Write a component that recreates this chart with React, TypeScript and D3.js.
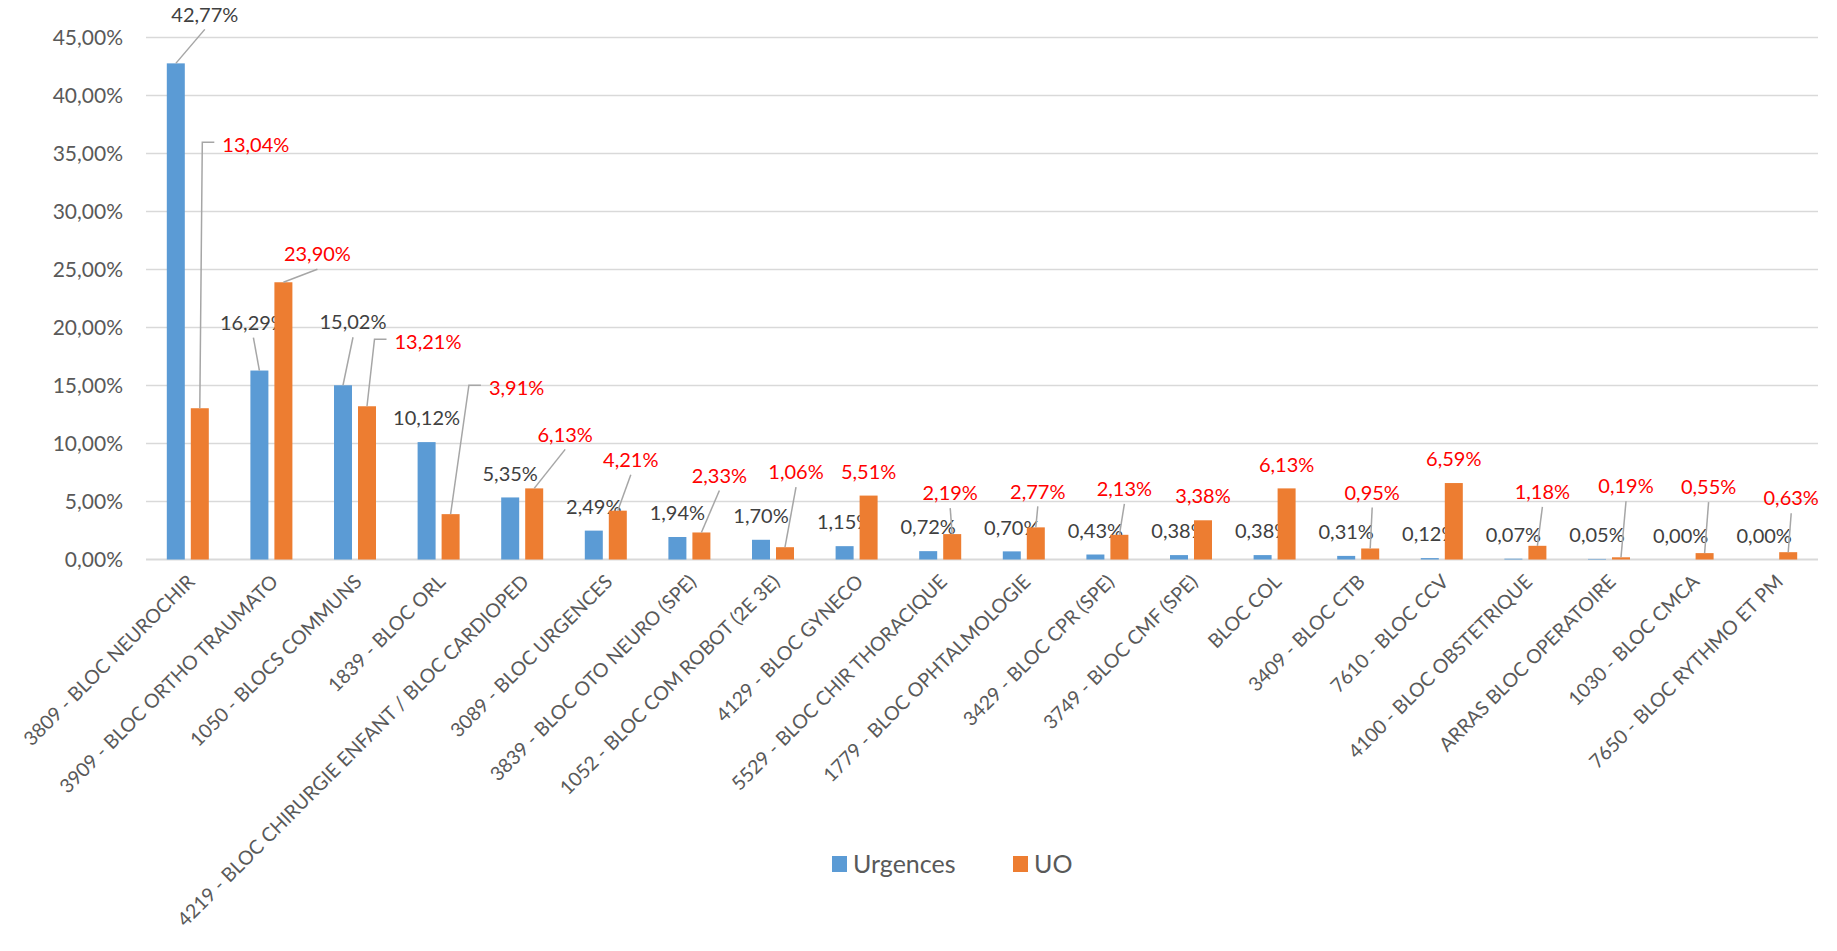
import React, { useEffect, useRef } from "react";
import * as d3 from "d3";

const categories = [
  "3809 - BLOC NEUROCHIR",
  "3909 - BLOC ORTHO TRAUMATO",
  "1050 - BLOCS COMMUNS",
  "1839 - BLOC ORL",
  "4219 - BLOC CHIRURGIE ENFANT / BLOC CARDIOPED",
  "3089 - BLOC URGENCES",
  "3839 - BLOC OTO NEURO (SPE)",
  "1052 - BLOC COM ROBOT (2E 3E)",
  "4129 - BLOC GYNECO",
  "5529 - BLOC CHIR THORACIQUE",
  "1779 - BLOC OPHTALMOLOGIE",
  "3429 - BLOC CPR (SPE)",
  "3749 - BLOC CMF (SPE)",
  "BLOC COL",
  "3409 - BLOC CTB",
  "7610 - BLOC CCV",
  "4100 - BLOC OBSTETRIQUE",
  "ARRAS BLOC OPERATOIRE",
  "1030 - BLOC CMCA",
  "7650 - BLOC RYTHMO ET PM",
];

const urgences = [
  0.4277, 0.1629, 0.1502, 0.1012, 0.0535, 0.0249, 0.0194, 0.017, 0.0115, 0.0072,
  0.007, 0.0043, 0.0038, 0.0038, 0.0031, 0.0012, 0.0007, 0.0005, 0.0, 0.0,
];

const uo = [
  0.1304, 0.239, 0.1321, 0.0391, 0.0613, 0.0421, 0.0233, 0.0106, 0.0551, 0.0219,
  0.0277, 0.0213, 0.0338, 0.0613, 0.0095, 0.0659, 0.0118, 0.0019, 0.0055, 0.0063,
];

const yTicks = [0, 0.05, 0.1, 0.15, 0.2, 0.25, 0.3, 0.35, 0.4, 0.45];

const seriesNames = ["Urgences", "UO"];

// manually moved data labels: offset of label centre from bar top centre (px), null = default
type Off = [number, number] | null;
const urgLabelOffsets: Off[] = [
  [29, -49], [-6, -48], [10, -63], null, null, null, null, null, null, null,
  null, null, null, null, null, null, null, null, null, null,
];
const uoLabelOffsets: Off[] = [
  [56, -263], [34, -28], [61, -64], [66, -126], [31, -54], [13, -51], [18, -57],
  [11, -75], null, [-2, -41], [2, -36], [5, -46], null, null, [2, -56], null,
  [5, -54], [5, -71], [4, -66], [3, -54],
];
const uoElbow = [0, 2, 3];

const W = 1837;
const H = 951;
const FONT = "Lato, 'Open Sans', sans-serif";

export default function App() {
  const ref = useRef<SVGSVGElement>(null);

  useEffect(() => {
    const svg = d3.select(ref.current);
    svg.selectAll("*").remove();

    const locale = d3.formatLocale({
      decimal: ",",
      thousands: " ",
      grouping: [3],
      currency: ["", " €"],
      percent: "%",
    });
    const fmt = locale.format(".2%");

    const x = d3.scaleBand().domain(categories).range([146, 1818]).padding(0);
    const xs = d3.scaleBand().domain(seriesNames).range([-21, 21]).paddingInner(0.25);
    const y = d3.scaleLinear().domain([0, 0.45]).range([559.5, 37.5]);
    const color = d3.scaleOrdinal<string, string>().domain(seriesNames).range(["#5b9bd5", "#ed7d31"]);

    // grid
    svg
      .append("g")
      .selectAll("line")
      .data(yTicks)
      .join("line")
      .attr("x1", 146)
      .attr("x2", 1818)
      .attr("y1", (d) => y(d))
      .attr("y2", (d) => y(d))
      .attr("stroke", "#d9d9d9")
      .attr("stroke-width", (d) => (d === 0 ? 2 : 1.5));

    svg
      .append("g")
      .selectAll("text")
      .data(yTicks)
      .join("text")
      .attr("x", 123)
      .attr("y", (d) => y(d) + 7.5)
      .attr("text-anchor", "end")
      .attr("fill", "#595959")
      .style("font-family", FONT)
      .style("font-size", "21px")
      .text((d) => fmt(d));

    // category labels
    svg
      .append("g")
      .selectAll("text")
      .data(categories)
      .join("text")
      .attr("text-anchor", "end")
      .attr("transform", (d) => `translate(${x(d)! + x.bandwidth() / 2 + 8}, 583) rotate(-45)`)
      .attr("fill", "#595959")
      .style("font-family", FONT)
      .style("font-size", "19.5px")
      .text((d) => d);

    const series = [
      { name: "Urgences", values: urgences, offsets: urgLabelOffsets, labelColor: "#404040" },
      { name: "UO", values: uo, offsets: uoLabelOffsets, labelColor: "#ff0000" },
    ];

    series.forEach((s) => {
      const bx = (i: number) => x(categories[i])! + x.bandwidth() / 2 + xs(s.name)!;
      const cx = (i: number) => bx(i) + xs.bandwidth() / 2;

      svg
        .append("g")
        .selectAll("rect")
        .data(s.values)
        .join("rect")
        .attr("x", (_, i) => bx(i))
        .attr("y", (d) => y(d))
        .attr("width", xs.bandwidth())
        .attr("height", (d) => y(0) - y(d))
        .attr("fill", color(s.name));

      const labels = svg.append("g");
      const leaders = svg.append("g");
      s.values.forEach((v, i) => {
        const off = s.offsets[i];
        const tx = cx(i) + (off ? off[0] : 0);
        const ty = y(v) + (off ? off[1] : -24);
        const t = labels
          .append("text")
          .attr("x", tx)
          .attr("y", ty + 7.2)
          .attr("text-anchor", "middle")
          .attr("fill", s.labelColor)
          .style("font-family", FONT)
          .style("font-size", "20px")
          .text(fmt(v));
        if (!off) return;
        let pts: [number, number][];
        if (s.name === "UO" && uoElbow.includes(i)) {
          const w = (t.node() as SVGTextElement).getComputedTextLength();
          const sx = tx - w / 2 - 8;
          pts = [
            [sx, ty - 3],
            [sx - 12, ty - 3],
            [cx(i), y(v)],
          ];
        } else {
          pts = [
            [tx, ty + 15],
            [cx(i), y(v)],
          ];
        }
        leaders
          .append("path")
          .attr("d", d3.line()(pts))
          .attr("fill", "none")
          .attr("stroke", "#a6a6a6")
          .attr("stroke-width", 1.5);
      });
    });

    // legend
    const legend = svg.append("g");
    const legendX = [832, 1013];
    seriesNames.forEach((n, i) => {
      legend
        .append("rect")
        .attr("x", legendX[i])
        .attr("y", 856)
        .attr("width", 15)
        .attr("height", 16)
        .attr("fill", color(n));
      legend
        .append("text")
        .attr("x", legendX[i] + 21)
        .attr("y", 873)
        .attr("fill", "#595959")
        .style("font-family", FONT)
        .style("font-size", "25px")
        .text(n);
    });
  }, []);

  return (
    <svg
      ref={ref}
      width={W}
      height={H}
      style={{ position: "absolute", left: 0, top: 0, background: "#fff" }}
    />
  );
}
